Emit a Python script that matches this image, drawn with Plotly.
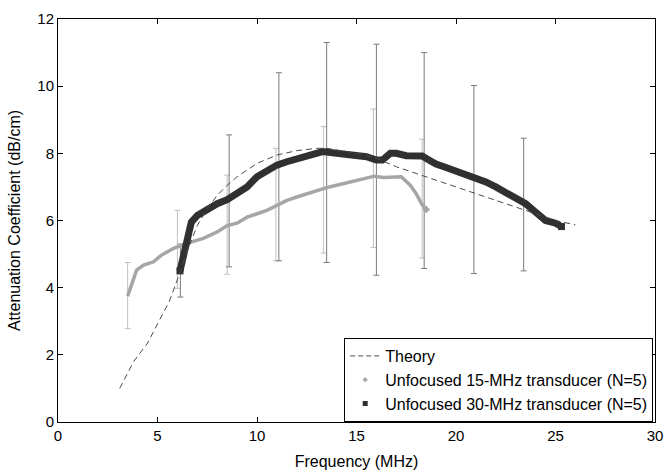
import plotly.graph_objects as go

# Theory curve
theory_f = [3.1, 3.8, 4.5, 5.0, 5.6, 6.1, 6.5, 7.0, 7.5, 8.0, 8.5, 9.0, 10.0, 11.0, 12.0, 13.0, 13.5, 14.0, 15.0, 16.0, 17.0, 18.0, 19.0, 20.0, 21.0, 22.0, 23.0, 24.0, 25.0, 26.0]
theory_a = [1.0, 1.8, 2.35, 2.9, 3.6, 4.4, 5.1, 5.85, 6.35, 6.75, 7.05, 7.3, 7.7, 7.95, 8.08, 8.15, 8.15, 8.1, 8.0, 7.85, 7.6, 7.4, 7.2, 6.98, 6.8, 6.6, 6.4, 6.2, 6.0, 5.87]

# Unfocused 15-MHz transducer
f15 = [3.5, 3.7, 3.95, 4.3, 4.8, 5.2, 5.8, 6.6, 7.3, 8.0, 8.5, 9.0, 9.5, 10.0, 10.5, 11.0, 11.5, 12.0, 12.5, 13.0, 13.5, 14.0, 14.5, 15.0, 15.5, 15.9, 16.35, 16.8, 17.25, 17.7, 18.0, 18.27, 18.5]
a15 = [3.75, 4.08, 4.52, 4.67, 4.77, 4.97, 5.17, 5.34, 5.47, 5.66, 5.85, 5.92, 6.1, 6.2, 6.3, 6.45, 6.6, 6.7, 6.8, 6.9, 6.98, 7.05, 7.12, 7.18, 7.25, 7.32, 7.28, 7.3, 7.3, 7.05, 6.8, 6.5, 6.33]

# Unfocused 30-MHz transducer
f30 = [6.13, 6.3, 6.5, 6.7, 7.0, 7.5, 8.0, 8.5, 9.0, 9.5, 10.0, 10.5, 11.0, 11.5, 12.0, 12.5, 13.0, 13.3, 14.0, 14.5, 15.0, 15.5, 16.0, 16.3, 16.7, 17.0, 17.5, 18.0, 18.3, 18.7, 19.0, 19.5, 20.0, 20.5, 21.0, 21.5, 22.0, 22.5, 23.0, 23.5, 24.0, 24.5, 25.0, 25.3]
a30 = [4.5, 5.0, 5.5, 5.95, 6.15, 6.35, 6.5, 6.62, 6.8, 7.0, 7.3, 7.5, 7.65, 7.75, 7.82, 7.9, 8.0, 8.05, 8.0, 7.97, 7.93, 7.9, 7.8, 7.8, 8.0, 8.0, 7.93, 7.95, 7.92, 7.78, 7.68, 7.58, 7.48, 7.38, 7.28, 7.15, 7.0, 6.85, 6.68, 6.5, 6.25, 6.0, 5.92, 5.82]

# Error bars (low / high)
eb15_f = [3.5, 6.0, 8.5, 10.95, 13.35, 15.85, 18.3]
eb15_hi = [4.75, 6.3, 7.35, 8.15, 8.8, 9.32, 8.42]
eb15_lo = [2.78, 3.98, 4.4, 4.8, 5.03, 5.2, 4.88]

eb30_f = [6.15, 8.6, 11.1, 13.5, 16.0, 18.4, 20.9, 23.4]
eb30_hi = [5.3, 8.55, 10.4, 11.3, 11.25, 11.0, 10.02, 8.45]
eb30_lo = [3.72, 4.62, 4.8, 4.75, 4.37, 4.57, 4.42, 4.5]

LIGHT = "#a6a6a6"
DARK = "#303030"
THEORY = "#4a4a4a"

fig = go.Figure()

def add_err(fx, lo, hi, color):
    mid = [(a + b) / 2 for a, b in zip(lo, hi)]
    half = [(b - a) / 2 for a, b in zip(lo, hi)]
    fig.add_trace(go.Scatter(
        x=fx, y=mid, mode="markers", marker=dict(size=0.1, color="rgba(0,0,0,0)"),
        error_y=dict(type="data", array=half, arrayminus=half, color=color, thickness=1, width=3),
        showlegend=False, hoverinfo="skip"))

add_err(eb15_f, eb15_lo, eb15_hi, "#c0c0c0")
add_err(eb30_f, eb30_lo, eb30_hi, "#7a7a7a")

fig.add_trace(go.Scatter(x=f15, y=a15, mode="lines", line=dict(color=LIGHT, width=3.5),
                         showlegend=False))
fig.add_trace(go.Scatter(x=[f15[-1]], y=[a15[-1]], mode="markers",
                         marker=dict(symbol="diamond", size=6, color=LIGHT), showlegend=False))
fig.add_trace(go.Scatter(x=f30, y=a30, mode="lines", line=dict(color=DARK, width=7),
                         showlegend=False))
fig.add_trace(go.Scatter(x=[f30[0], f30[-1]], y=[a30[0], a30[-1]], mode="markers",
                         marker=dict(symbol="square", size=7, color=DARK), showlegend=False))
fig.add_trace(go.Scatter(x=theory_f, y=theory_a, mode="lines",
                         line=dict(color=THEORY, width=1, dash="6px,4px"), showlegend=False))

# legend entries
fig.add_trace(go.Scatter(x=[None], y=[None], mode="lines", name="Theory",
                         line=dict(color=THEORY, width=1, dash="5px,3px")))
fig.add_trace(go.Scatter(x=[None], y=[None], mode="markers", name="Unfocused 15-MHz transducer (N=5)",
                         marker=dict(symbol="diamond", size=4, color=LIGHT)))
fig.add_trace(go.Scatter(x=[None], y=[None], mode="markers", name="Unfocused 30-MHz transducer (N=5)",
                         marker=dict(symbol="square", size=5, color=DARK)))

axis_common = dict(showline=True, linecolor="black", linewidth=1, mirror="ticks",
                   ticks="inside", ticklen=5, tickcolor="black", showgrid=False, zeroline=False,
                   automargin=False, tickfont=dict(size=15, color="black"))

fig.update_layout(
    width=667, height=472,
    margin=dict(l=58, r=12, t=19, b=50),
    paper_bgcolor="white", plot_bgcolor="white",
    font=dict(family="Liberation Sans, Arial, sans-serif", color="black"),
    xaxis=dict(range=[0, 30], tickvals=[0, 5, 10, 15, 20, 25, 30],
               title=dict(text="Frequency (MHz)", font=dict(size=16), standoff=12), **axis_common),
    yaxis=dict(range=[0, 12], tickvals=[0, 2, 4, 6, 8, 10, 12],
               title=dict(text="Attenuation Coefficient (dB/cm)", font=dict(size=16), standoff=12), **axis_common),
    legend=dict(x=0.997, y=0.0, xanchor="right", yanchor="bottom", bgcolor="white",
                bordercolor="black", borderwidth=1, font=dict(size=16),
                tracegroupgap=0, itemwidth=30),
    showlegend=True,
)

fig.write_html("out.html")
